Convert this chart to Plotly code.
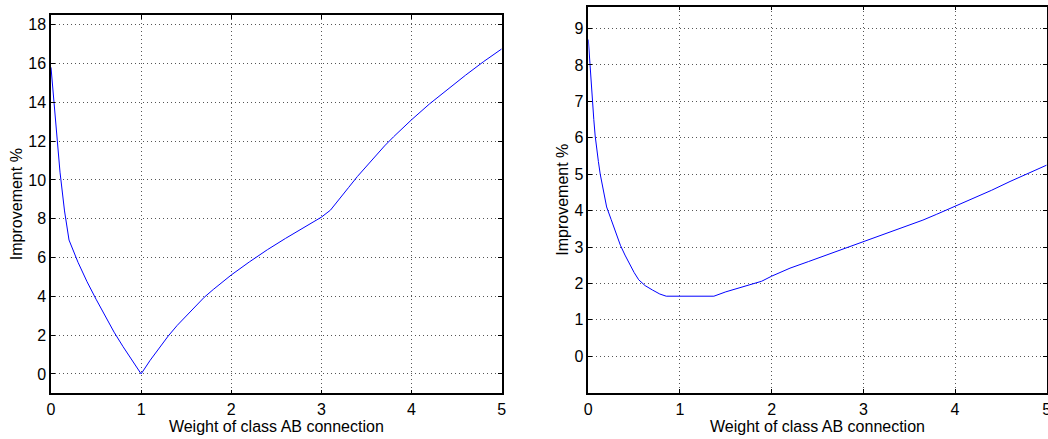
import plotly.graph_objects as go

# Left panel data
left_x = [0, 0.05, 0.1, 0.15, 0.2, 0.3, 0.4, 0.5, 0.6, 0.7, 0.8, 0.9, 1.0,
          1.1, 1.2, 1.3, 1.4, 1.5, 1.6, 1.7, 1.8, 1.9, 2.0, 2.2, 2.4, 2.6, 2.8, 3.0, 3.1,
          3.2, 3.3, 3.4, 3.5, 3.6, 3.7, 3.8, 3.9, 4.0, 4.2, 4.4, 4.6, 4.8, 5.0]
left_y = [15.8, 13.3, 10.4, 8.4, 6.9, 5.75, 4.75, 3.85, 3.0, 2.15, 1.4, 0.7, 0.0,
          0.7, 1.35, 1.95, 2.5, 3.0, 3.5, 3.95, 4.35, 4.75, 5.1, 5.77, 6.4, 6.98, 7.52, 8.08, 8.44,
          9.0, 9.6, 10.18, 10.72, 11.25, 11.75, 12.22, 12.67, 13.1, 13.92, 14.68, 15.4, 16.1, 16.75]

# Right panel data
right_x = [0, 0.01, 0.02, 0.03, 0.045, 0.06, 0.075, 0.09, 0.11, 0.13, 0.16, 0.2, 0.25,
           0.3, 0.35, 0.4, 0.45, 0.5, 0.55, 0.62, 0.7, 0.78, 0.85, 1.0, 1.2, 1.37,
           1.5, 1.7, 1.89, 2.0, 2.2, 2.4, 2.6, 2.8, 3.0, 3.2, 3.4, 3.6, 3.65, 3.8,
           4.0, 4.2, 4.4, 4.6, 4.8, 5.0]
right_y = [8.7, 8.3, 7.92, 7.55, 7.0, 6.5, 6.05, 5.7, 5.35, 5.0, 4.6, 4.1, 3.75,
           3.38, 3.05, 2.78, 2.53, 2.3, 2.1, 1.94, 1.82, 1.71, 1.65, 1.65, 1.65, 1.65,
           1.77, 1.92, 2.06, 2.2, 2.42, 2.6, 2.78, 2.97, 3.15, 3.33, 3.51, 3.69, 3.74, 3.9,
           4.12, 4.33, 4.56, 4.8, 5.02, 5.25]

x_ticks = [0, 1, 2, 3, 4, 5]
left_yticks = [0, 2, 4, 6, 8, 10, 12, 14, 16, 18]
right_yticks = [0, 1, 2, 3, 4, 5, 6, 7, 8, 9]

x_title = "Weight of class AB connection"
y_title = "Improvement %"

W, H = 1048, 439
FONT = "Liberation Sans, Arial, sans-serif"

fig = go.Figure()
fig.add_trace(go.Scatter(x=left_x, y=left_y, mode="lines",
                         line=dict(color="#0000ff", width=1), xaxis="x", yaxis="y",
                         showlegend=False, hoverinfo="skip"))
fig.add_trace(go.Scatter(x=right_x, y=right_y, mode="lines",
                         line=dict(color="#0000ff", width=1), xaxis="x2", yaxis="y2",
                         showlegend=False, hoverinfo="skip"))

axis_common = dict(
    showline=True, linecolor="black", linewidth=1.5, mirror="ticks",
    ticks="inside", ticklen=4, tickcolor="black", tickwidth=1,
    showgrid=True, gridcolor="#555555", gridwidth=1, griddash="1px,3px",
    zeroline=False, automargin=False, ticklabeloverflow="allow",
    tickfont=dict(family=FONT, size=16, color="black"),
)

xt = dict(text=x_title, font=dict(family=FONT, size=16), standoff=4)
yt = dict(text=y_title, font=dict(family=FONT, size=16), standoff=2)

fig.update_layout(
    width=W, height=H,
    margin=dict(l=0, r=0, t=0, b=0),
    paper_bgcolor="white", plot_bgcolor="white",
    font=dict(family=FONT, color="black"),
    xaxis=dict(domain=[51 / W, 501.7 / W], range=[0, 5], tickvals=x_ticks,
               title=xt, anchor="y", ticklabelstandoff=1, **axis_common),
    yaxis=dict(domain=[(H - 393.3) / H, (H - 15) / H], range=[-1, 18.5], tickvals=left_yticks,
               title=yt, anchor="x", **axis_common),
    xaxis2=dict(domain=[588.3 / W, 1046.7 / W], range=[0, 5], tickvals=x_ticks,
                title=xt, anchor="y2", ticklabelstandoff=1, **axis_common),
    yaxis2=dict(domain=[(H - 392.7) / H, (H - 6.7) / H], range=[-1, 9.6], tickvals=right_yticks,
                title=yt, anchor="x2", **axis_common),
)

fig.write_html("out.html", config={"displayModeBar": False},
               post_script="document.body.style.margin='0';document.body.style.overflow='hidden';")
